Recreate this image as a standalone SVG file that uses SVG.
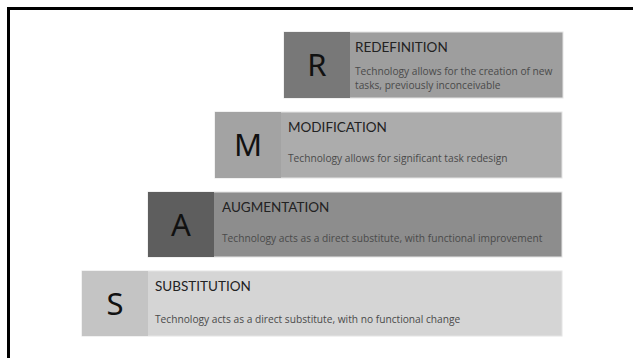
<svg xmlns="http://www.w3.org/2000/svg" width="633" height="358" viewBox="0 0 633 358">
<style>
.frame{fill:none;stroke:#000;stroke-width:3}
.box{stroke:#e4e4e4;stroke-width:1}
.letter{font-family:"Noto Sans","Liberation Sans",sans-serif;font-size:31px;fill:#111;text-anchor:middle}
.title{font-family:Lato,"Open Sans",sans-serif;font-size:13.5px;fill:#222}
.desc{font-family:"Open Sans","Liberation Sans",sans-serif;font-size:10.2px;fill:#4a4a4a}
</style>
<rect width="633" height="358" fill="#fff"/>
<path class="frame" d="M8.5 360 V8.5 H640"/>
<g id="node-R">
<rect class="box" x="284" y="32" width="279" height="66" fill="#9e9e9e"/>
<rect x="284" y="32" width="66" height="66" fill="#787878"/>
<text class="letter" x="317" y="76">R</text>
<text class="title" x="355" y="52">REDEFINITION</text>
<text class="desc" x="355" y="75">Technology allows for the creation of new</text>
<text class="desc" x="355" y="89">tasks, previously inconceivable</text>
</g>
<g id="node-M">
<rect class="box" x="215" y="112" width="347" height="66" fill="#acacac"/>
<rect x="215" y="112" width="66" height="66" fill="#a3a3a3"/>
<text class="letter" x="248" y="156">M</text>
<text class="title" x="288" y="132">MODIFICATION</text>
<text class="desc" x="288" y="162">Technology allows for significant task redesign</text>
</g>
<g id="node-A">
<rect class="box" x="148" y="192" width="414" height="65" fill="#8d8d8d"/>
<rect x="148" y="192" width="66" height="65" fill="#5e5e5e"/>
<text class="letter" x="181" y="236">A</text>
<text class="title" x="222" y="212">AUGMENTATION</text>
<text class="desc" x="222" y="242">Technology acts as a direct substitute, with functional improvement</text>
</g>
<g id="node-S">
<rect class="box" x="82" y="271" width="480" height="65" fill="#d5d5d5"/>
<rect x="82" y="271" width="66" height="65" fill="#c4c4c4"/>
<text class="letter" x="115" y="315">S</text>
<text class="title" x="155" y="291">SUBSTITUTION</text>
<text class="desc" x="155" y="323">Technology acts as a direct substitute, with no functional change</text>
</g>
<g id="connectors"></g>
</svg>
